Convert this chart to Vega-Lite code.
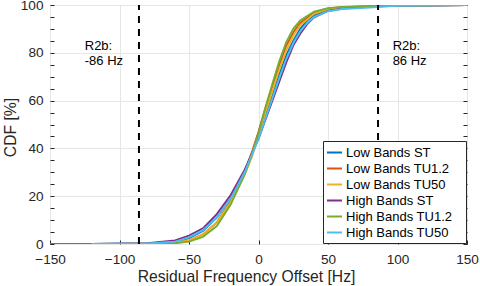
{
  "$schema": "https://vega.github.io/schema/vega-lite/v6.json",
  "autosize": {"type": "none"},
  "padding": {"left": 50, "top": 5, "right": 13, "bottom": 42},
  "width": 417,
  "height": 239,
  "config": {
    "font": "Liberation Sans",
    "view": {"stroke": "#262626", "strokeWidth": 1},
    "axis": {"labelFont": "Liberation Sans", "titleFont": "Liberation Sans", "labelFontSize": 13.6, "titleFontSize": 15.7, "titleFontWeight": "normal", "labelColor": "#262626", "titleColor": "#262626", "domain": false, "tickColor": "#262626", "gridColor": "#e6e6e6", "labelFlush": false, "labelOverlap": false}
  },
  "datasets": {
    "curves": [
      {"s": "Low Bands ST", "o": 1, "x": -120, "y": 0},
      {"s": "Low Bands ST", "o": 1, "x": -80, "y": 0.2},
      {"s": "Low Bands ST", "o": 1, "x": -60, "y": 1},
      {"s": "Low Bands ST", "o": 1, "x": -50, "y": 2.5},
      {"s": "Low Bands ST", "o": 1, "x": -40, "y": 5.5},
      {"s": "Low Bands ST", "o": 1, "x": -30, "y": 11},
      {"s": "Low Bands ST", "o": 1, "x": -20, "y": 19},
      {"s": "Low Bands ST", "o": 1, "x": -10, "y": 30},
      {"s": "Low Bands ST", "o": 1, "x": -5, "y": 37},
      {"s": "Low Bands ST", "o": 1, "x": 0, "y": 45},
      {"s": "Low Bands ST", "o": 1, "x": 5, "y": 54},
      {"s": "Low Bands ST", "o": 1, "x": 10, "y": 62},
      {"s": "Low Bands ST", "o": 1, "x": 15, "y": 71},
      {"s": "Low Bands ST", "o": 1, "x": 20, "y": 79},
      {"s": "Low Bands ST", "o": 1, "x": 25, "y": 85},
      {"s": "Low Bands ST", "o": 1, "x": 30, "y": 90},
      {"s": "Low Bands ST", "o": 1, "x": 35, "y": 93.5},
      {"s": "Low Bands ST", "o": 1, "x": 40, "y": 95.8},
      {"s": "Low Bands ST", "o": 1, "x": 50, "y": 98},
      {"s": "Low Bands ST", "o": 1, "x": 60, "y": 98.8},
      {"s": "Low Bands ST", "o": 1, "x": 70, "y": 99.2},
      {"s": "Low Bands ST", "o": 1, "x": 85, "y": 99.5},
      {"s": "Low Bands ST", "o": 1, "x": 100, "y": 99.8},
      {"s": "Low Bands ST", "o": 1, "x": 150, "y": 100},

      {"s": "Low Bands TU1.2", "o": 2, "x": -150, "y": 0},
      {"s": "Low Bands TU1.2", "o": 2, "x": -80, "y": 0.1},
      {"s": "Low Bands TU1.2", "o": 2, "x": -60, "y": 0.6},
      {"s": "Low Bands TU1.2", "o": 2, "x": -50, "y": 1.5},
      {"s": "Low Bands TU1.2", "o": 2, "x": -40, "y": 4},
      {"s": "Low Bands TU1.2", "o": 2, "x": -30, "y": 9},
      {"s": "Low Bands TU1.2", "o": 2, "x": -20, "y": 18},
      {"s": "Low Bands TU1.2", "o": 2, "x": -10, "y": 30},
      {"s": "Low Bands TU1.2", "o": 2, "x": -5, "y": 38},
      {"s": "Low Bands TU1.2", "o": 2, "x": 0, "y": 47},
      {"s": "Low Bands TU1.2", "o": 2, "x": 5, "y": 57},
      {"s": "Low Bands TU1.2", "o": 2, "x": 10, "y": 66},
      {"s": "Low Bands TU1.2", "o": 2, "x": 15, "y": 75},
      {"s": "Low Bands TU1.2", "o": 2, "x": 20, "y": 83},
      {"s": "Low Bands TU1.2", "o": 2, "x": 25, "y": 88.5},
      {"s": "Low Bands TU1.2", "o": 2, "x": 30, "y": 92.5},
      {"s": "Low Bands TU1.2", "o": 2, "x": 40, "y": 96.8},
      {"s": "Low Bands TU1.2", "o": 2, "x": 50, "y": 98.5},
      {"s": "Low Bands TU1.2", "o": 2, "x": 60, "y": 99.1},
      {"s": "Low Bands TU1.2", "o": 2, "x": 80, "y": 99.5},
      {"s": "Low Bands TU1.2", "o": 2, "x": 100, "y": 99.8},
      {"s": "Low Bands TU1.2", "o": 2, "x": 150, "y": 100},

      {"s": "Low Bands TU50", "o": 3, "x": -120, "y": 0},
      {"s": "Low Bands TU50", "o": 3, "x": -80, "y": 0.1},
      {"s": "Low Bands TU50", "o": 3, "x": -60, "y": 0.6},
      {"s": "Low Bands TU50", "o": 3, "x": -50, "y": 1.5},
      {"s": "Low Bands TU50", "o": 3, "x": -40, "y": 4},
      {"s": "Low Bands TU50", "o": 3, "x": -30, "y": 9},
      {"s": "Low Bands TU50", "o": 3, "x": -20, "y": 17.5},
      {"s": "Low Bands TU50", "o": 3, "x": -10, "y": 29},
      {"s": "Low Bands TU50", "o": 3, "x": -5, "y": 36},
      {"s": "Low Bands TU50", "o": 3, "x": 0, "y": 45},
      {"s": "Low Bands TU50", "o": 3, "x": 5, "y": 55},
      {"s": "Low Bands TU50", "o": 3, "x": 10, "y": 64},
      {"s": "Low Bands TU50", "o": 3, "x": 15, "y": 73},
      {"s": "Low Bands TU50", "o": 3, "x": 20, "y": 81},
      {"s": "Low Bands TU50", "o": 3, "x": 25, "y": 87},
      {"s": "Low Bands TU50", "o": 3, "x": 30, "y": 91.5},
      {"s": "Low Bands TU50", "o": 3, "x": 40, "y": 96.3},
      {"s": "Low Bands TU50", "o": 3, "x": 50, "y": 98.3},
      {"s": "Low Bands TU50", "o": 3, "x": 60, "y": 99},
      {"s": "Low Bands TU50", "o": 3, "x": 80, "y": 99.5},
      {"s": "Low Bands TU50", "o": 3, "x": 100, "y": 99.8},
      {"s": "Low Bands TU50", "o": 3, "x": 150, "y": 100},

      {"s": "High Bands ST", "o": 4, "x": -120, "y": 0},
      {"s": "High Bands ST", "o": 4, "x": -80, "y": 0.3},
      {"s": "High Bands ST", "o": 4, "x": -60, "y": 1.5},
      {"s": "High Bands ST", "o": 4, "x": -50, "y": 3.5},
      {"s": "High Bands ST", "o": 4, "x": -40, "y": 6.5},
      {"s": "High Bands ST", "o": 4, "x": -30, "y": 12.5},
      {"s": "High Bands ST", "o": 4, "x": -20, "y": 20.5},
      {"s": "High Bands ST", "o": 4, "x": -10, "y": 31},
      {"s": "High Bands ST", "o": 4, "x": -5, "y": 37.5},
      {"s": "High Bands ST", "o": 4, "x": 0, "y": 44},
      {"s": "High Bands ST", "o": 4, "x": 5, "y": 52},
      {"s": "High Bands ST", "o": 4, "x": 10, "y": 60},
      {"s": "High Bands ST", "o": 4, "x": 15, "y": 68},
      {"s": "High Bands ST", "o": 4, "x": 20, "y": 76},
      {"s": "High Bands ST", "o": 4, "x": 25, "y": 83},
      {"s": "High Bands ST", "o": 4, "x": 30, "y": 88},
      {"s": "High Bands ST", "o": 4, "x": 35, "y": 92},
      {"s": "High Bands ST", "o": 4, "x": 40, "y": 94.8},
      {"s": "High Bands ST", "o": 4, "x": 50, "y": 97.5},
      {"s": "High Bands ST", "o": 4, "x": 60, "y": 98.5},
      {"s": "High Bands ST", "o": 4, "x": 80, "y": 99.3},
      {"s": "High Bands ST", "o": 4, "x": 100, "y": 99.7},
      {"s": "High Bands ST", "o": 4, "x": 150, "y": 100},

      {"s": "High Bands TU1.2", "o": 5, "x": -120, "y": 0},
      {"s": "High Bands TU1.2", "o": 5, "x": -80, "y": 0.1},
      {"s": "High Bands TU1.2", "o": 5, "x": -60, "y": 0.3},
      {"s": "High Bands TU1.2", "o": 5, "x": -50, "y": 1},
      {"s": "High Bands TU1.2", "o": 5, "x": -40, "y": 3},
      {"s": "High Bands TU1.2", "o": 5, "x": -30, "y": 7.5},
      {"s": "High Bands TU1.2", "o": 5, "x": -20, "y": 16.5},
      {"s": "High Bands TU1.2", "o": 5, "x": -10, "y": 29},
      {"s": "High Bands TU1.2", "o": 5, "x": -5, "y": 37},
      {"s": "High Bands TU1.2", "o": 5, "x": 0, "y": 46.5},
      {"s": "High Bands TU1.2", "o": 5, "x": 5, "y": 57},
      {"s": "High Bands TU1.2", "o": 5, "x": 10, "y": 67},
      {"s": "High Bands TU1.2", "o": 5, "x": 15, "y": 76.5},
      {"s": "High Bands TU1.2", "o": 5, "x": 20, "y": 84.5},
      {"s": "High Bands TU1.2", "o": 5, "x": 25, "y": 90},
      {"s": "High Bands TU1.2", "o": 5, "x": 30, "y": 93.5},
      {"s": "High Bands TU1.2", "o": 5, "x": 40, "y": 97.2},
      {"s": "High Bands TU1.2", "o": 5, "x": 50, "y": 98.7},
      {"s": "High Bands TU1.2", "o": 5, "x": 60, "y": 99.2},
      {"s": "High Bands TU1.2", "o": 5, "x": 80, "y": 99.5},
      {"s": "High Bands TU1.2", "o": 5, "x": 100, "y": 99.8},
      {"s": "High Bands TU1.2", "o": 5, "x": 150, "y": 100},

      {"s": "High Bands TU50", "o": 6, "x": -120, "y": 0},
      {"s": "High Bands TU50", "o": 6, "x": -80, "y": 0.2},
      {"s": "High Bands TU50", "o": 6, "x": -60, "y": 1},
      {"s": "High Bands TU50", "o": 6, "x": -50, "y": 2.8},
      {"s": "High Bands TU50", "o": 6, "x": -40, "y": 5.8},
      {"s": "High Bands TU50", "o": 6, "x": -30, "y": 11},
      {"s": "High Bands TU50", "o": 6, "x": -20, "y": 19},
      {"s": "High Bands TU50", "o": 6, "x": -10, "y": 30},
      {"s": "High Bands TU50", "o": 6, "x": -5, "y": 37},
      {"s": "High Bands TU50", "o": 6, "x": 0, "y": 44},
      {"s": "High Bands TU50", "o": 6, "x": 5, "y": 52.5},
      {"s": "High Bands TU50", "o": 6, "x": 10, "y": 61},
      {"s": "High Bands TU50", "o": 6, "x": 15, "y": 69.5},
      {"s": "High Bands TU50", "o": 6, "x": 20, "y": 77.5},
      {"s": "High Bands TU50", "o": 6, "x": 25, "y": 84},
      {"s": "High Bands TU50", "o": 6, "x": 30, "y": 89},
      {"s": "High Bands TU50", "o": 6, "x": 35, "y": 92.5},
      {"s": "High Bands TU50", "o": 6, "x": 40, "y": 95},
      {"s": "High Bands TU50", "o": 6, "x": 50, "y": 97.4},
      {"s": "High Bands TU50", "o": 6, "x": 60, "y": 98.3},
      {"s": "High Bands TU50", "o": 6, "x": 80, "y": 98.9},
      {"s": "High Bands TU50", "o": 6, "x": 90, "y": 99.3},
      {"s": "High Bands TU50", "o": 6, "x": 100, "y": 99.7},
      {"s": "High Bands TU50", "o": 6, "x": 150, "y": 100}
    ],
    "limits": [{"x": -86}, {"x": 86}],
    "labels": [
      {"x": -125, "y": 81, "t": "R2b:"},
      {"x": -125, "y": 74.8, "t": "-86 Hz"},
      {"x": 96.5, "y": 81, "t": "R2b:"},
      {"x": 96.5, "y": 74.8, "t": "86 Hz"}
    ]
  },
  "layer": [
    {
      "data": {"name": "curves"},
      "mark": {"type": "line", "strokeWidth": 1.9, "clip": true},
      "encoding": {
        "x": {"field": "x", "type": "quantitative", "scale": {"domain": [-150, 150], "nice": false}, "axis": {"values": [-150, -100, -50, 0, 50, 100, 150], "title": "Residual Frequency Offset [Hz]", "tickSize": -4, "labelPadding": 12, "titleX": 196, "titleY": 37.7, "titleBaseline": "alphabetic", "titleAlign": "center", "grid": true}},
        "y": {"field": "y", "type": "quantitative", "scale": {"domain": [0, 100], "nice": false}, "axis": {"values": [0, 5, 10, 15, 20, 25, 30, 35, 40, 45, 50, 55, 60, 65, 70, 75, 80, 85, 90, 95, 100], "labelExpr": "datum.value % 20 == 0 ? datum.label : ''", "gridOpacity": {"condition": {"test": "datum.value % 20 == 0", "value": 1}, "value": 0}, "title": "CDF [%]", "tickSize": -4, "labelPadding": 11, "titleX": -35, "titleY": 122, "titleBaseline": "alphabetic", "titleAlign": "center", "grid": true}},
        "color": {"field": "s", "type": "nominal", "sort": ["Low Bands ST", "Low Bands TU1.2", "Low Bands TU50", "High Bands ST", "High Bands TU1.2", "High Bands TU50"], "scale": {"range": ["#0072BD", "#D95319", "#EDB120", "#7E2F8E", "#77AC30", "#4DBEEE"]}, "legend": {"title": null, "orient": "bottom-right", "offset": 1, "symbolType": "stroke", "symbolSize": 225, "symbolStrokeWidth": 2, "labelFontSize": 13, "labelFont": "Liberation Sans", "labelColor": "#000000", "labelExpr": "datum.label + '\u2800'", "rowPadding": 0, "strokeColor": "#262626", "fillColor": "#ffffff", "padding": 3, "labelOffset": 3}},
        "order": {"field": "o"}
      }
    },
    {
      "data": {"name": "limits"},
      "mark": {"type": "rule", "color": "#000000", "strokeWidth": 2, "strokeDash": [7, 6]},
      "encoding": {
        "x": {"field": "x", "type": "quantitative"},
        "y": {"datum": 0, "type": "quantitative", "axis": null},
        "y2": {"datum": 100}
      }
    },
    {
      "data": {"name": "labels"},
      "mark": {"type": "text", "align": "left", "baseline": "alphabetic", "fontSize": 13, "font": "Liberation Sans", "color": "#000000"},
      "encoding": {
        "x": {"field": "x", "type": "quantitative"},
        "y": {"field": "y", "type": "quantitative", "axis": {"orient": "right", "values": [0, 5, 10, 15, 20, 25, 30, 35, 40, 45, 50, 55, 60, 65, 70, 75, 80, 85, 90, 95, 100], "labels": false, "title": null, "tickSize": -4, "grid": false}},
        "text": {"field": "t"}
      }
    }
  ],
  "resolve": {"axis": {"y": "independent"}}
}
